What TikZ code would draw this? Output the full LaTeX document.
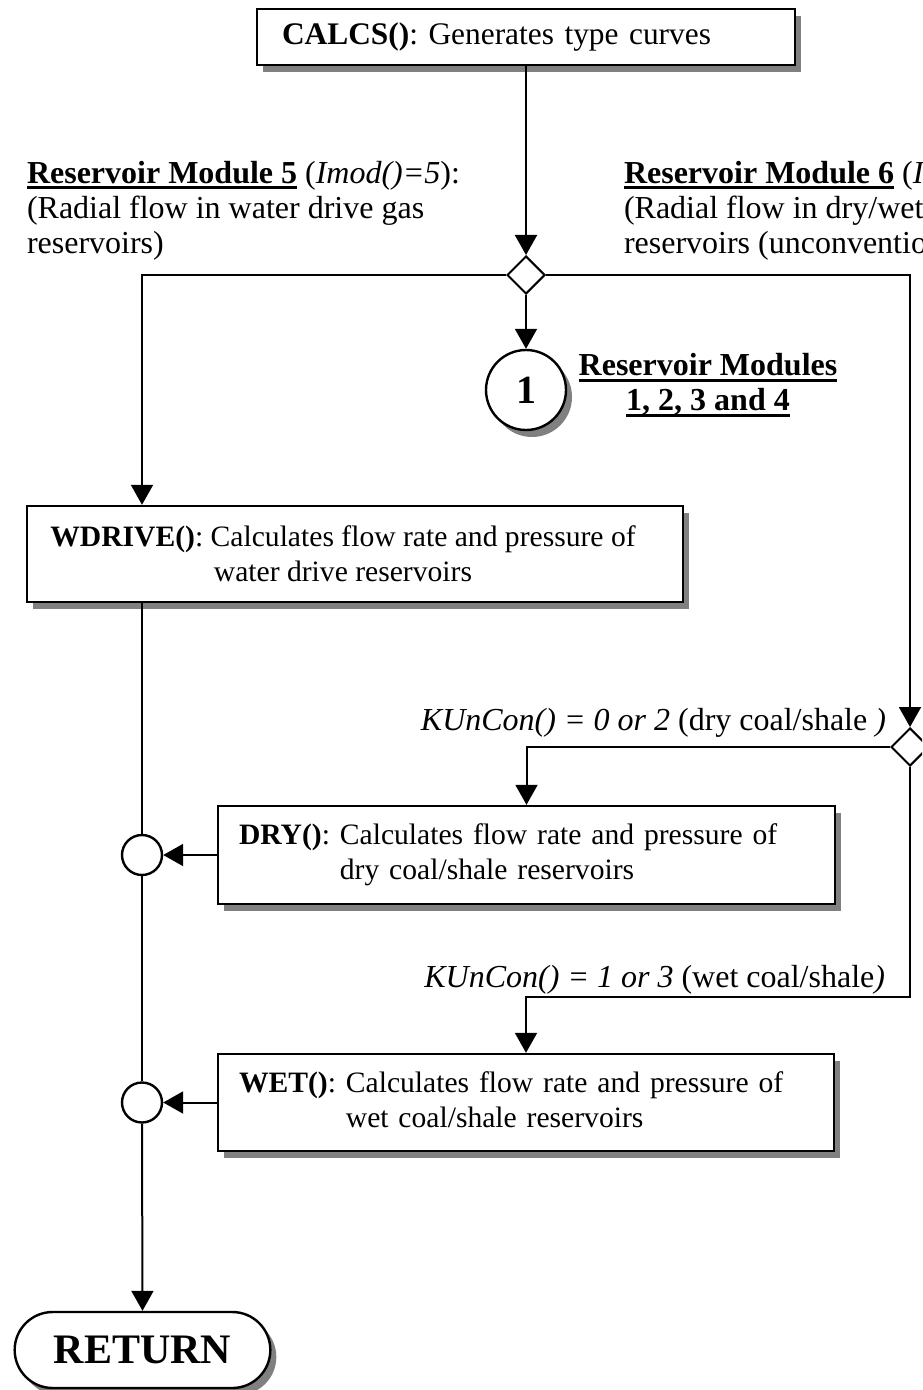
\documentclass[tikz,border=0pt]{standalone}
\usepackage{fontspec}
\setmainfont{Liberation Serif}
\usetikzlibrary{arrows.meta, shapes.geometric, shapes.misc, shadows, positioning}
\frenchspacing
\newcommand{\labfont}{\fontsize{16}{17.5}\selectfont}
\newcommand{\boxfont}{\fontsize{14.8}{17.5}\selectfont}
\newcommand{\thickul}[1]{\setbox0\hbox{#1}\rlap{\rule[-3pt]{\wd0}{1.4pt}}\box0\relax}

\begin{document}
\begin{tikzpicture}[x=0.5pt, y=-0.5pt, line width=1pt, font=\labfont,
  arr/.style={-{Triangle[length=10pt,width=11pt]}},
  boxshadow/.style={drop shadow={shadow xshift=3pt, shadow yshift=-3.5pt, fill=black!50, opacity=1}},
  proc/.style={draw, line width=1.2pt, fill=white, boxshadow, inner xsep=10.5pt, align=left, font=\boxfont},
  dec/.style={draw, diamond, fill=white, minimum width=19pt, minimum height=19pt, inner sep=0pt, aspect=1},
  con/.style={draw, circle, fill=white, inner sep=0pt, line width=1.2pt},
  lbl/.style={inner sep=0pt, align=left}]
  \useasboundingbox (0,0) rectangle (922,1390);
  \clip (0,0) rectangle (922,1390);

  \node[proc, text width=244pt, inner xsep=12.5pt, minimum height=28pt, font=\fontsize{15.7}{17.5}\selectfont] (calcs) at (526,37) {\textbf{CALCS()}: Generates type curves};
  \node[dec] (dec1) at (526,275) {};
  \node[con, minimum size=40pt, boxshadow, font=\fontsize{20}{24}\selectfont\bfseries] (con1) at (526,390) {1};
  \node[lbl, align=center, font=\labfont\bfseries] (labm) at (708,385) {\thickul{Reservoir Modules}\\\thickul{1, 2, 3 and 4}};

  \node[lbl, anchor=north west] (lab5) at (26,160) {\thickul{\textbf{Reservoir Module 5}} (\textit{Imod()=5}):\\(Radial flow in water drive gas\\reservoirs)};
  \node[lbl, anchor=north west] (lab6) at (623,160) {\thickul{\textbf{Reservoir Module 6}} (\textit{Imod()=6}):\\(Radial flow in dry/wet coal/shale\\reservoirs (unconventional))};

  \node[proc, align=center, minimum width=328pt, minimum height=48pt] (wdrive) at (355,554) {\textbf{WDRIVE()}: Calculates flow rate and pressure of\hspace*{12pt}\\water drive reservoirs\hspace*{12pt}};

  \node[dec] (dec2) at (910,747) {};
  \node[lbl, anchor=base east] (lab02) at (887,730) {\textit{KUnCon() = 0 or 2} (dry coal/shale\textit{ )}};
  \node[proc, text width=287.5pt, minimum height=49pt] (dry) at (526.5,855) {\begin{tabular}{@{}l@{\ }l@{}}\textbf{DRY()}: & Calculates flow rate and pressure of\\ & dry coal/shale reservoirs\end{tabular}};
  \node[lbl, anchor=base east] (lab13) at (886,987) {\textit{KUnCon() = 1 or 3} (wet coal/shale\textit{)}};
  \node[proc, text width=287pt, minimum height=48.5pt] (wet) at (526,1102.5) {\begin{tabular}{@{}l@{\ }l@{}}\textbf{WET()}: & Calculates flow rate and pressure of\\ & wet coal/shale reservoirs\end{tabular}};

  \node[con, minimum size=20pt] (join1) at (142,855) {};
  \node[con, minimum size=20pt] (join2) at (142,1102.5) {};
  \node[draw, rounded rectangle, fill=white, boxshadow, line width=1.2pt, minimum width=134.5pt, minimum height=38pt, font=\fontsize{21}{25}\selectfont\bfseries] (ret) at (142.5,1350) {RETURN};

  \draw[arr] (calcs.south -| dec1) -- (dec1.north);
  \draw[arr] (dec1.south) -- (con1.north);
  \draw[arr] (dec1.west) -| (join1 |- wdrive.north);
  \draw[arr] (dec1.east) -| (dec2.north);
  \draw[arr] (dec2.west) -| (dry.north);
  \draw[arr] (dec2.south) |- ([yshift=28pt]wet.north) -- (wet.north);

  \draw (join1 |- wdrive.south) -- (join1.north);
  \draw (join1.south) -- (join2.north);
  \draw[arr] (join2.south) -- (ret.north);
  \draw[arr] (dry.west) -- (join1.east);
  \draw[arr] (wet.west) -- (join2.east);
\end{tikzpicture}
\end{document}
